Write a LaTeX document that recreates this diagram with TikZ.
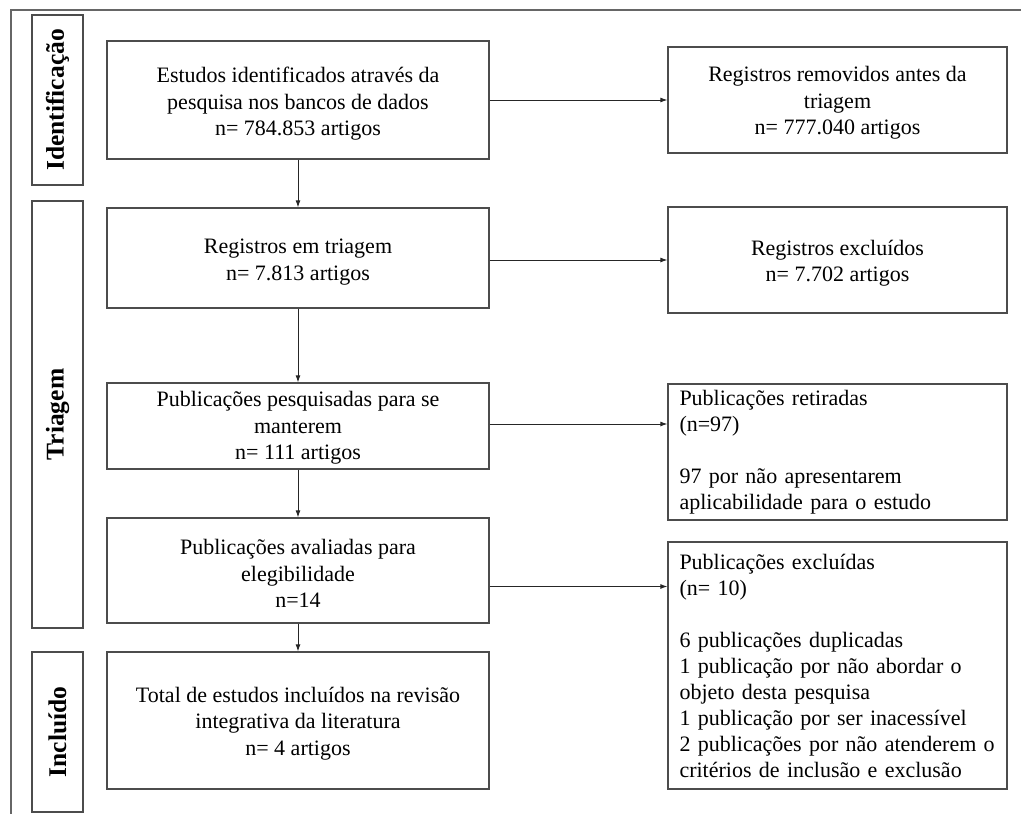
\documentclass[tikz,border=0pt]{standalone}
\usepackage{fontspec}
\setmainfont{Liberation Serif}
\usetikzlibrary{arrows.meta,calc}
\begin{document}
\begin{tikzpicture}[x=1pt,y=-1pt,
  frm/.style={draw=black!70, line width=1.3pt, inner sep=0pt},
  boxc/.style={frm, minimum width=382pt},
  boxr/.style={frm, minimum width=339pt},
  txtc/.style={align=center, inner sep=0pt, font=\fontsize{22}{26.5}\selectfont},
  boxl/.style={frm, minimum width=339pt, align=left,
    text width=316pt, inner xsep=11.5pt, inner ysep=0pt, font=\fontsize{22}{26}\selectfont},
  lab/.style={frm, rotate=90, minimum height=51pt,
    font=\fontsize{25.5}{30}\selectfont\bfseries},
  frame/.style={draw=black!60, line width=1.3pt},
  arr/.style={draw=black!85, line width=0.9pt, -{Latex[length=7pt,width=5pt]}}]
\useasboundingbox (0,0) rectangle (1021,814);
\draw[frame] (11,814) -- (11,10) -- (1021,10);
% stage labels
\node[lab, minimum width=170pt] (lid) at (57.5,100) {Identificação};
\node[lab, minimum width=427pt] (ltr) at (57.5,414.5) {Triagem};
\node[lab, minimum width=160pt] (lin) at (57.5,732) {Incluído};
% main column
\node[boxc, minimum height=118pt] (b1) at (298,100) {};
\node[txtc] (t1) at ([yshift=-4pt]b1.center) {Estudos identificados através da\\pesquisa nos bancos de dados\\n= 784.853 artigos};
\node[boxc, minimum height=100pt] (b2) at (298,258) {};
\node[txtc] (t2) at ([yshift=-4pt]b2.center) {Registros em triagem\\n= 7.813 artigos};
\node[boxc, minimum height=86pt] (b3) at (298,426) {};
\node[txtc] (t3) at ([yshift=-2pt]b3.center) {Publicações pesquisadas para se\\manterem\\n= 111 artigos};
\node[boxc, minimum height=105pt] (b4) at (298,570.5) {};
\node[txtc] (t4) at ([yshift=-3pt]b4.center) {Publicações avaliadas para\\elegibilidade\\n=14};
\node[boxc, minimum height=137pt] (b5) at (298,720.5) {};
\node[txtc] (t5) at ([yshift=-3pt]b5.center) {Total de estudos incluídos na revisão\\integrativa da literatura\\n= 4 artigos};
% right column
\node[boxr, minimum height=106pt] (r1) at (837.5,100) {};
\node[txtc] (s1) at ([yshift=-3pt]r1.center) {Registros removidos antes da\\triagem\\n= 777.040 artigos};
\node[boxr, minimum height=106pt] (r2) at (837.5,260) {};
\node[txtc] (s2) at ([yshift=-3pt]r2.center) {Registros excluídos\\ n= 7.702 artigos};
\node[boxl, minimum height=136pt] (r3) at (837.5,452) {Publicações retiradas\\(n=97)\\[26pt]97 por não apresentarem\\aplicabilidade para o estudo};
\node[boxl, minimum height=247pt] (r4) at (837.5,665.5) {Publicações excluídas\\(n= 10)\\[26pt]6 publicações duplicadas\\1 publicação por não abordar o\\objeto desta pesquisa\\1 publicação por ser inacessível\\2 publicações por não atenderem o\\critérios de inclusão e exclusão};
% vertical arrows
\draw[arr] (b1) -- (b2);
\draw[arr] (b2) -- (b3);
\draw[arr] (b3) -- (b4);
\draw[arr] (b4) -- (b5);
% horizontal arrows
\draw[arr] (b1.east) -- (r1.west);
\draw[arr] (b2.east |- r2.west) -- (r2.west);
\draw[arr] ([yshift=2pt]b3.east) -- ([yshift=2pt]b3.east -| r3.west);
\draw[arr] ([yshift=-16pt]b4.east) -- ([yshift=-16pt]b4.east -| r4.west);
\end{tikzpicture}
\end{document}
